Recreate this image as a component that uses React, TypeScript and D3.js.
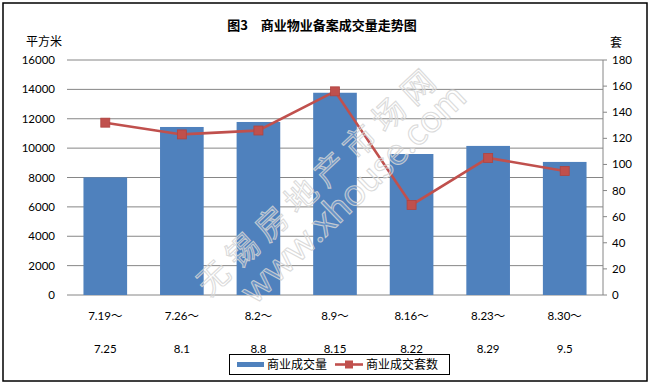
import React from "react";
import * as d3 from "d3";

const categoriesTop = ["7.19～", "7.26～", "8.2～", "8.9～", "8.16～", "8.23～", "8.30～"];
const categoriesBottom = ["7.25", "8.1", "8.8", "8.15", "8.22", "8.29", "9.5"];
const areaValues = [8010, 11440, 11780, 13770, 9600, 10150, 9060];
const unitValues = [132, 123, 126, 156, 69, 105, 95];
const leftTicks = [0, 2000, 4000, 6000, 8000, 10000, 12000, 14000, 16000];
const rightTicks = [0, 20, 40, 60, 80, 100, 120, 140, 160, 180];
const seriesNames = ["商业成交量", "商业成交套数"];
const title = "图3　商业物业备案成交量走势图";

const W = 650, H = 384;
const plot = { left: 67, right: 603, top: 60, bottom: 295 };
const latin = "Lato, 'Open Sans', 'Noto Sans CJK SC', sans-serif";
const cjk = "'Noto Sans CJK SC', sans-serif";
const blue = "#4F81BD";
const red = "#C0504D";
const grid = "#868686";

export default function App() {
  const idx = categoriesTop.map((_, i) => String(i));
  const x = d3.scaleBand().domain(idx).range([plot.left, plot.right]).paddingInner(0.43).paddingOuter(0.215);
  const yL = d3.scaleLinear().domain([0, 16000]).range([plot.bottom, plot.top]);
  const yR = d3.scaleLinear().domain([0, 180]).range([plot.bottom, plot.top]);
  const cx = (i: number) => (x(String(i)) as number) + x.bandwidth() / 2;
  const line = d3.line<number>().x((_, i) => cx(i)).y((d) => yR(d));

  return (
    <svg width={W} height={H} style={{ position: "absolute", left: 0, top: 0, background: "#fff" }}>
      <rect x={0} y={0} width={W} height={H} fill="#fff" />
      <rect x={3} y={3} width={644} height={378} fill="none" stroke="#000" strokeWidth={1.5} />

      <text x={322} y={30} textAnchor="middle" fontFamily={cjk} fontWeight="bold" fontSize={13} fill="#000">{title}</text>
      <text x={26} y={46} fontFamily={cjk} fontSize={12} fill="#000">平方米</text>
      <text x={616} y={47} textAnchor="middle" fontFamily={cjk} fontSize={12} fill="#000">套</text>

      {leftTicks.map((t) => (
        <g key={"l" + t}>
          <line x1={plot.left} x2={plot.right} y1={yL(t)} y2={yL(t)} stroke={grid} strokeWidth={1} />
          <text x={55} y={yL(t) + 4} textAnchor="end" fontFamily={latin} fontSize={11.5} fill="#000">{t}</text>
        </g>
      ))}
      <line x1={plot.right} x2={plot.right} y1={plot.top} y2={plot.bottom} stroke={grid} strokeWidth={1} />
      {rightTicks.map((t) => (
        <g key={"r" + t}>
          <line x1={plot.right} x2={plot.right + 4} y1={yR(t)} y2={yR(t)} stroke={grid} strokeWidth={1} />
          <text x={612} y={yR(t) + 4} fontFamily={latin} fontSize={11.5} fill="#000">{t}</text>
        </g>
      ))}

      {areaValues.map((v, i) => (
        <rect key={"b" + i} x={x(String(i))} y={yL(v)} width={x.bandwidth()} height={plot.bottom - yL(v)} fill={blue} />
      ))}

      <path d={line(unitValues) || ""} fill="none" stroke={red} strokeWidth={2.6} />
      {unitValues.map((v, i) => (
        <rect key={"m" + i} x={cx(i) - 4.5} y={yR(v) - 4.5} width={9} height={9} fill={red} stroke="#B04440" strokeWidth={0.8} />
      ))}

      {/* watermark */}
      <g fill="#ffffff" fillOpacity={0.18} stroke="#d4d4d4" strokeWidth={1.1} strokeOpacity={0.85}>
        <text transform="translate(317,178) rotate(-43)" textAnchor="middle" dominantBaseline="central" fontFamily={cjk} fontSize={32} letterSpacing={8}>无锡房地产市场网</text>
        <text transform="translate(351,192) rotate(-44)" textAnchor="middle" dominantBaseline="central" fontFamily={latin} fontSize={38}>www.xhouse.com</text>
      </g>

      {categoriesTop.map((c, i) => (
        <g key={"c" + i}>
          <text x={cx(i)} y={320} textAnchor="middle" fontFamily={latin} fontSize={11.5} fill="#000">{c}</text>
          <text x={cx(i)} y={353} textAnchor="middle" fontFamily={latin} fontSize={11.5} fill="#000">{categoriesBottom[i]}</text>
        </g>
      ))}

      <rect x={229.5} y={354.5} width={220} height={20} fill="#fff" stroke="#000" strokeWidth={1} />
      <rect x={237} y={362} width={27} height={5} fill={blue} />
      <text x={267} y={369} fontFamily={cjk} fontSize={12} fill="#000">{seriesNames[0]}</text>
      <line x1={335} x2={363} y1={364.5} y2={364.5} stroke={red} strokeWidth={2.6} />
      <rect x={345} y={360.5} width={8} height={8} fill={red} />
      <text x={366} y={369} fontFamily={cjk} fontSize={12} fill="#000">{seriesNames[1]}</text>
    </svg>
  );
}
